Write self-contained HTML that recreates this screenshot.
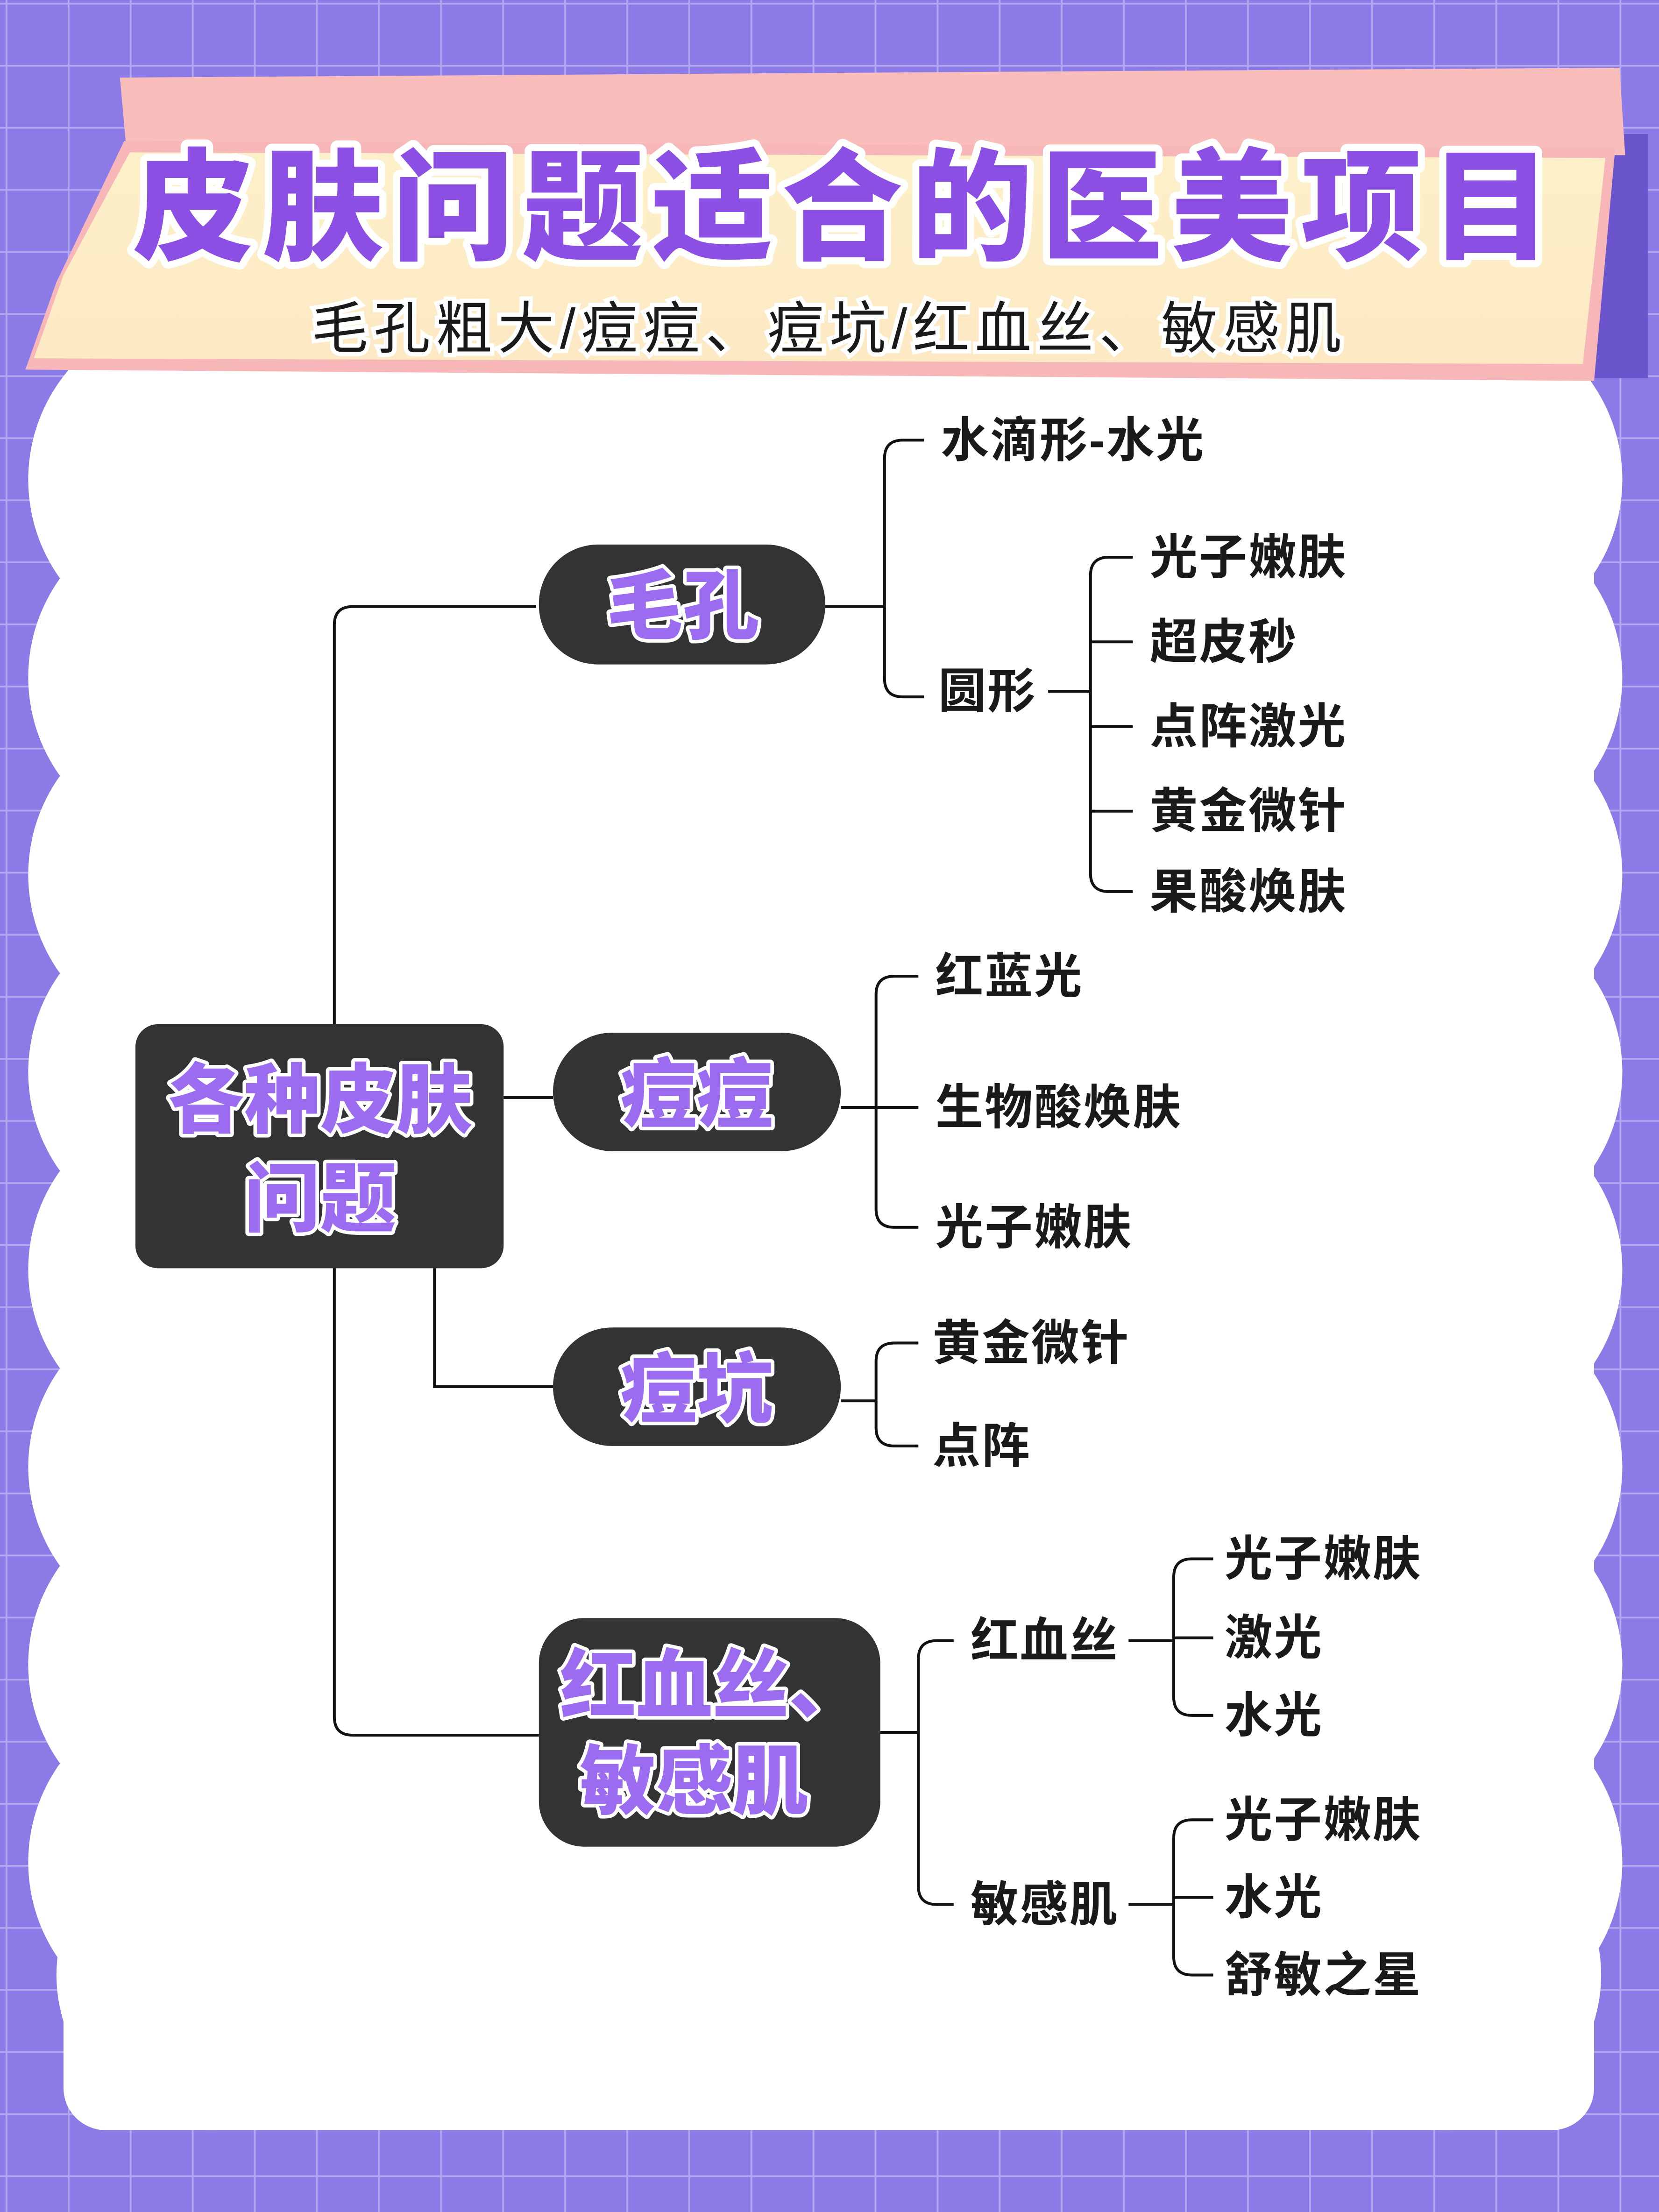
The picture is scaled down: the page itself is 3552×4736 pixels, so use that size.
<!DOCTYPE html>
<html><head><meta charset="utf-8"><style>
html,body{margin:0;padding:0;width:3552px;height:4736px;overflow:hidden;background:#8c7ae6}
svg{display:block}
text{font-family:"Liberation Sans","Noto Sans CJK SC",sans-serif}
</style></head><body>
<svg width="3552" height="4736" viewBox="0 0 1176 1568" xmlns="http://www.w3.org/2000/svg">
<defs>
<pattern id="g" width="44" height="44" patternUnits="userSpaceOnUse" x="4" y="2">
<rect width="44" height="44" fill="#8c7ae6"/>
<path d="M0 0H44M0 0V44" stroke="#b3a7f0" stroke-width="2.5" fill="none"/>
</pattern>
<linearGradient id="cr" x1="0" y1="0" x2="0" y2="1"><stop offset="0" stop-color="#fdf0c8"/><stop offset="1" stop-color="#fde9c4"/></linearGradient>
</defs>
<rect width="1176" height="1568" fill="url(#g)"/>
<!-- cloud -->
<g fill="#fff">
<rect x="45" y="255" width="1085" height="1255" rx="30"/>
<circle cx="140" cy="340" r="120"/><circle cx="140" cy="480" r="120"/><circle cx="140" cy="620" r="120"/><circle cx="140" cy="760" r="120"/><circle cx="140" cy="900" r="120"/><circle cx="140" cy="1040" r="120"/><circle cx="140" cy="1180" r="120"/><circle cx="140" cy="1320" r="120"/><circle cx="150" cy="1400" r="110"/>
<circle cx="1030" cy="340" r="120"/><circle cx="1030" cy="480" r="120"/><circle cx="1030" cy="620" r="120"/><circle cx="1030" cy="760" r="120"/><circle cx="1030" cy="900" r="120"/><circle cx="1030" cy="1040" r="120"/><circle cx="1030" cy="1180" r="120"/><circle cx="1030" cy="1320" r="120"/><circle cx="1025" cy="1400" r="110"/>
</g>
<!-- banner -->
<polygon points="1115,95 1168,95 1168,268 1110,268" fill="#6a55cc"/>
<polygon points="85,55 1148,48 1152,110 90,110" fill="#f9bdbb"/>
<polygon points="88,100 1145,105 1130,270 18,262 40,200" fill="#f7b7b8"/>
<polygon points="92,108 1138,112 1122,258 24,254 45,195" fill="url(#cr)"/>
<text x="600" y="148" text-anchor="middle" dominant-baseline="central" font-size="86" font-weight="900" fill="#8b4fe3" stroke="#fff" stroke-width="10" paint-order="stroke" stroke-linejoin="round" letter-spacing="6">皮肤问题适合的医美项目</text>
<text x="588" y="233" text-anchor="middle" dominant-baseline="central" font-size="40" fill="#1a1a1a" stroke="#fff" stroke-width="6" paint-order="stroke" letter-spacing="4">毛孔粗大/痘痘、痘坑/红血丝、敏感肌</text>
<!-- lines -->
<g stroke="#111" stroke-width="2" fill="none">
<path d="M380 430H250Q237 430 237 443V1217Q237 1230 250 1230H382"/>
<path d="M357 778H392"/>
<path d="M308 899V983H392"/>
<path d="M585 430H627"/>
<path d="M640 312Q627 312 627 325V481Q627 494 640 494H655"/>
<path d="M640 312H655"/>
<path d="M743 490H773"/>
<path d="M803 395H786Q773 395 773 408V619Q773 632 786 632H803M773 455H803M773 515H803M773 575H803"/>
<path d="M596 785H621"/>
<path d="M651 692H634Q621 692 621 705V857Q621 870 634 870H651M621 785H651"/>
<path d="M596 993H621"/>
<path d="M651 952H634Q621 952 621 965V1012Q621 1025 634 1025H651"/>
<path d="M624 1228H651"/>
<path d="M676 1163H664Q651 1163 651 1176V1337Q651 1350 664 1350H676"/>
<path d="M800 1163H832M860 1105H845Q832 1105 832 1118V1203Q832 1216 845 1216H860M832 1161H860"/>
<path d="M800 1350H832M860 1290H845Q832 1290 832 1303V1387Q832 1400 845 1400H860M832 1345H860"/>
</g>
<!-- nodes -->
<g fill="#333">
<rect x="96" y="726" width="261" height="173" rx="16"/>
<rect x="382" y="386" width="203" height="85" rx="42"/>
<rect x="392" y="732" width="204" height="84" rx="42"/>
<rect x="392" y="941" width="204" height="84" rx="42"/>
<rect x="382" y="1147" width="242" height="162" rx="32"/>
</g>
<g font-size="54" font-weight="900" fill="#9b6cf0" stroke="#fff" stroke-width="5" paint-order="stroke" stroke-linejoin="round" text-anchor="middle" dominant-baseline="central">
<text x="227" y="780">各种皮肤</text>
<text x="227" y="850">问题</text>
<text x="484" y="430">毛孔</text>
<text x="494" y="776">痘痘</text>
<text x="494" y="985">痘坑</text>
<text x="505" y="1195">红血丝、</text>
<text x="492" y="1263">敏感肌</text>
</g>
<g font-size="34" font-weight="bold" fill="#1a1a1a" dominant-baseline="central" letter-spacing="1">
<text x="667" y="312">水滴形-水光</text>
<text x="665" y="490">圆形</text>
<text x="815" y="395">光子嫩肤</text>
<text x="815" y="455">超皮秒</text>
<text x="815" y="515">点阵激光</text>
<text x="815" y="575">黄金微针</text>
<text x="815" y="632">果酸焕肤</text>
<text x="663" y="692">红蓝光</text>
<text x="663" y="785">生物酸焕肤</text>
<text x="663" y="870">光子嫩肤</text>
<text x="661" y="952">黄金微针</text>
<text x="661" y="1025">点阵</text>
<text x="688" y="1163">红血丝</text>
<text x="688" y="1350">敏感肌</text>
<text x="868" y="1105">光子嫩肤</text>
<text x="868" y="1161">激光</text>
<text x="868" y="1216">水光</text>
<text x="868" y="1290">光子嫩肤</text>
<text x="868" y="1345">水光</text>
<text x="868" y="1400">舒敏之星</text>
</g>
</svg>
</body></html>
